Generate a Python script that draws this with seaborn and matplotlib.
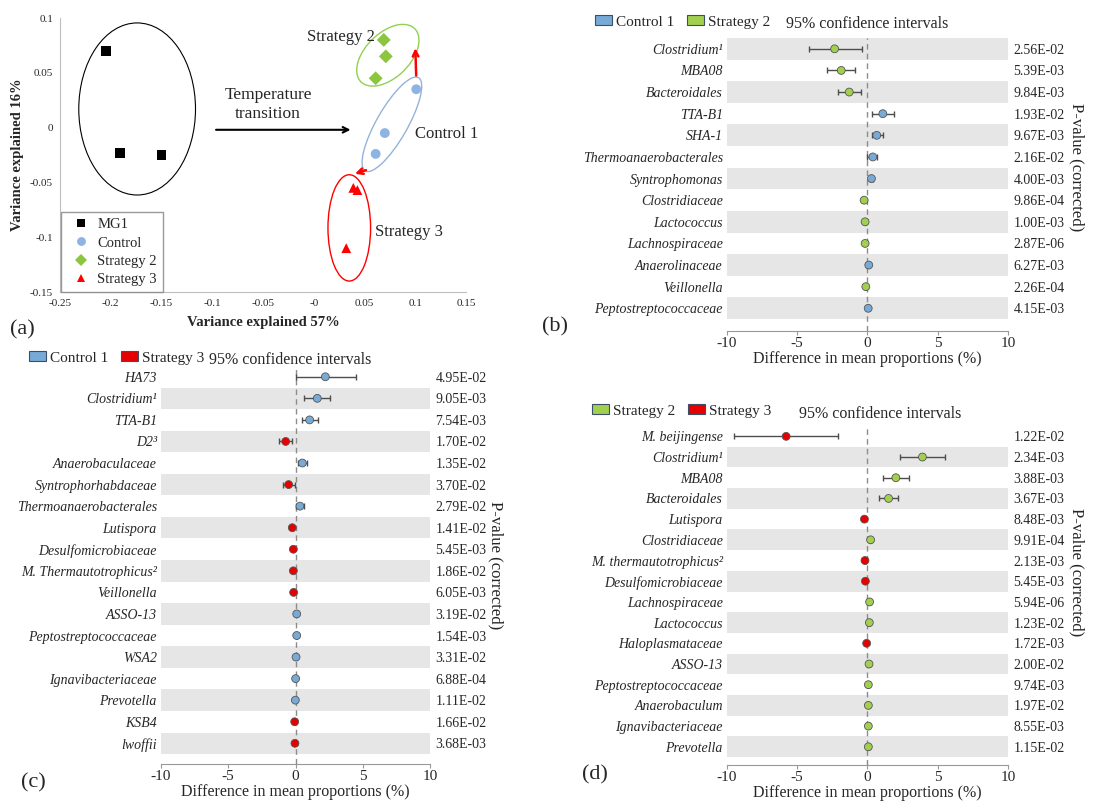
import matplotlib
matplotlib.use('Agg')
import matplotlib.pyplot as plt
from matplotlib.patches import Ellipse, Patch
from matplotlib.ticker import FuncFormatter
import seaborn as sns
import pandas as pd
import numpy as np

W, H = 1102, 806

# ---- panel (a): PCoA scores ----
mg1_x = [-0.205, -0.191, -0.150]
mg1_y = [0.070, -0.023, -0.025]
ctrl_x = [0.101, 0.070, 0.061]
ctrl_y = [0.035, -0.005, -0.024]
s2_x = [0.069, 0.071, 0.061]
s2_y = [0.080, 0.065, 0.045]
s3_x = [0.039, 0.043, 0.032]
s3_y = [-0.055, -0.057, -0.110]

# ---- panel (b): Control 1 vs Strategy 2 ----
b_taxa = ['Clostridium¹', 'MBA08', 'Bacteroidales', 'TTA-B1', 'SHA-1', 'Thermoanaerobacterales',
          'Syntrophomonas', 'Clostridiaceae', 'Lactococcus', 'Lachnospiraceae', 'Anaerolinaceae',
          'Veillonella', 'Peptostreptococcaceae']
b_diff = [-2.34, -1.87, -1.30, 1.09, 0.66, 0.38, 0.28, -0.24, -0.17, -0.17, 0.09, -0.12, 0.05]
b_lo = [-4.19, -2.89, -2.11, 0.31, 0.31, 0.00, 0.20, -0.30, -0.22, -0.22, 0.04, -0.16, 0.01]
b_hi = [-0.40, -0.92, -0.47, 1.89, 1.07, 0.71, 0.36, -0.18, -0.12, -0.12, 0.14, -0.08, 0.09]
b_group = ['Strategy 2', 'Strategy 2', 'Strategy 2', 'Control 1', 'Control 1', 'Control 1',
           'Control 1', 'Strategy 2', 'Strategy 2', 'Strategy 2', 'Control 1', 'Strategy 2', 'Control 1']
b_p = ['2.56E-02', '5.39E-03', '9.84E-03', '1.93E-02', '9.67E-03', '2.16E-02', '4.00E-03',
       '9.86E-04', '1.00E-03', '2.87E-06', '6.27E-03', '2.26E-04', '4.15E-03']

# ---- panel (c): Control 1 vs Strategy 3 ----
c_taxa = ['HA73', 'Clostridium¹', 'TTA-B1', 'D2³', 'Anaerobaculaceae', 'Syntrophorhabdaceae',
          'Thermoanaerobacterales', 'Lutispora', 'Desulfomicrobiaceae', 'M. Thermautotrophicus²',
          'Veillonella', 'ASSO-13', 'Peptostreptococcaceae', 'WSA2', 'Ignavibacteriaceae',
          'Prevotella', 'KSB4', 'lwoffii']
c_diff = [2.22, 1.62, 1.05, -0.73, 0.51, -0.51, 0.33, -0.24, -0.16, -0.16, -0.14, 0.09, 0.09,
          0.04, 0.01, -0.01, -0.06, -0.04]
c_lo = [0.00, 0.63, 0.46, -1.20, 0.16, -0.95, 0.01, -0.28, -0.20, -0.20, -0.18, 0.05, 0.05,
        0.00, -0.03, -0.05, -0.10, -0.08]
c_hi = [4.47, 2.57, 1.65, -0.24, 0.88, -0.04, 0.66, -0.20, -0.12, -0.12, -0.10, 0.13, 0.13,
        0.08, 0.05, 0.03, -0.02, 0.00]
c_group = ['Control 1', 'Control 1', 'Control 1', 'Strategy 3', 'Control 1', 'Strategy 3',
           'Control 1', 'Strategy 3', 'Strategy 3', 'Strategy 3', 'Strategy 3', 'Control 1',
           'Control 1', 'Control 1', 'Control 1', 'Control 1', 'Strategy 3', 'Strategy 3']
c_p = ['4.95E-02', '9.05E-03', '7.54E-03', '1.70E-02', '1.35E-02', '3.70E-02', '2.79E-02',
       '1.41E-02', '5.45E-03', '1.86E-02', '6.05E-03', '3.19E-02', '1.54E-03', '3.31E-02',
       '6.88E-04', '1.11E-02', '1.66E-02', '3.68E-03']

# ---- panel (d): Strategy 2 vs Strategy 3 ----
d_taxa = ['M. beijingense', 'Clostridium¹', 'MBA08', 'Bacteroidales', 'Lutispora', 'Clostridiaceae',
          'M. thermautotrophicus²', 'Desulfomicrobiaceae', 'Lachnospiraceae', 'Lactococcus',
          'Haloplasmataceae', 'ASSO-13', 'Peptostreptococcaceae', 'Anaerobaculum',
          'Ignavibacteriaceae', 'Prevotella']
d_diff = [-5.79, 3.91, 2.02, 1.50, -0.22, 0.22, -0.18, -0.15, 0.15, 0.13, -0.06, 0.11, 0.06,
          0.06, 0.06, 0.06]
d_lo = [-9.48, 2.31, 1.08, 0.84, -0.26, 0.18, -0.22, -0.19, 0.11, 0.09, -0.10, 0.07, 0.02,
        0.02, 0.02, 0.02]
d_hi = [-2.07, 5.50, 2.97, 2.19, -0.18, 0.26, -0.14, -0.11, 0.19, 0.17, -0.02, 0.15, 0.10,
        0.10, 0.10, 0.10]
d_group = ['Strategy 3', 'Strategy 2', 'Strategy 2', 'Strategy 2', 'Strategy 3', 'Strategy 2',
           'Strategy 3', 'Strategy 3', 'Strategy 2', 'Strategy 2', 'Strategy 3', 'Strategy 2',
           'Strategy 2', 'Strategy 2', 'Strategy 2', 'Strategy 2']
d_p = ['1.22E-02', '2.34E-03', '3.88E-03', '3.67E-03', '8.48E-03', '9.91E-04', '2.13E-03',
       '5.45E-03', '5.94E-06', '1.23E-02', '1.72E-03', '2.00E-02', '9.74E-03', '1.97E-02',
       '8.55E-03', '1.15E-02']

BLUE = '#78aad7'
GREEN = '#a2d04e'
RED = '#e60000'
pal = {'Control 1': BLUE, 'Strategy 2': GREEN, 'Strategy 3': RED}

sns.set_style('white')
plt.rcParams['font.family'] = ['Liberation Serif', 'DejaVu Serif']

fig = plt.figure(figsize=(W / 100, H / 100), dpi=100)


def px_axes(l, t, r, b):
    return fig.add_axes([l / W, 1 - b / H, (r - l) / W, (b - t) / H])


# ================= (a) =================
ax = px_axes(60, 18, 466, 292)
pcoa = pd.DataFrame({
    'x': mg1_x + ctrl_x + s2_x + s3_x,
    'y': mg1_y + ctrl_y + s2_y + s3_y,
    'group': ['MG1'] * 3 + ['Control'] * 3 + ['Strategy 2'] * 3 + ['Strategy 3'] * 3,
})
sns.scatterplot(data=pcoa, x='x', y='y', hue='group', style='group',
                palette={'MG1': 'black', 'Control': '#8db4e2', 'Strategy 2': '#8cc63f',
                         'Strategy 3': '#ff0000'},
                markers={'MG1': 's', 'Control': 'o', 'Strategy 2': 'D', 'Strategy 3': '^'},
                s=50, linewidth=0, ax=ax, zorder=3)
ax.add_patch(Ellipse((-0.174, 0.017), 0.115, 0.157, fill=False, ec='black', lw=0.8))
ax.add_patch(Ellipse((0.073, 0.066), 0.072, 0.042, angle=40, fill=False, ec='#92d050', lw=1))
ax.add_patch(Ellipse((0.077, 0.003), 0.100, 0.030, angle=58, fill=False, ec='#95b3d7', lw=1))
ax.add_patch(Ellipse((0.035, -0.0915), 0.042, 0.097, fill=False, ec='#ff0000', lw=1))
ax.annotate('', xy=(0.039, -0.002), xytext=(-0.099, -0.002),
            arrowprops=dict(arrowstyle='->', color='black', lw=1.5))
ax.annotate('', xy=(0.100, 0.075), xytext=(0.101, 0.045),
            arrowprops=dict(arrowstyle='->', color='red', lw=1.8))
ax.annotate('', xy=(0.038, -0.043), xytext=(0.054, -0.038),
            arrowprops=dict(arrowstyle='->', color='red', lw=1.8))
ax.text(-0.045, 0.021, 'Temperature\ntransition', ha='center', va='center', fontsize=12.5,
        linespacing=1.3)
ax.text(0.060, 0.083, 'Strategy 2', ha='right', va='center', fontsize=12)
ax.text(0.100, -0.006, 'Control 1', ha='left', va='center', fontsize=12)
ax.text(0.060, -0.095, 'Strategy 3', ha='left', va='center', fontsize=12)
ax.set_xlim(-0.25, 0.15)
ax.set_ylim(-0.15, 0.1)
ax.set_xticks(np.arange(-0.25, 0.151, 0.05))
ax.set_yticks(np.arange(-0.15, 0.101, 0.05))
ax.xaxis.set_major_formatter(FuncFormatter(lambda v, p: '%g' % round(v, 2)))
ax.yaxis.set_major_formatter(FuncFormatter(lambda v, p: '%g' % round(v, 2)))
ax.tick_params(labelsize=8, length=3, color='#bfbfbf', pad=2)
for s in ['top', 'right']:
    ax.spines[s].set_visible(False)
for s in ['left', 'bottom']:
    ax.spines[s].set_color('#bfbfbf')
ax.set_xlabel('Variance explained 57%', fontsize=10.5, fontweight='bold', labelpad=6)
ax.set_ylabel('Variance explained 16%', fontsize=10.5, fontweight='bold', labelpad=4)
h, l = ax.get_legend_handles_labels()
ax.legend(h, l, loc='lower left', bbox_to_anchor=(0.002, 0.0), borderaxespad=0, fontsize=10.5,
          frameon=True, fancybox=False, edgecolor='#808080', handletextpad=0.1,
          labelspacing=0.35, borderpad=0.4, markerscale=0.9)
ax.get_legend().get_frame().set_linewidth(1)
fig.text(22 / W, 1 - 330 / H, '(a)', fontsize=16, ha='center', va='center')


# ================= (b), (c), (d) =================
def diff_panel(rect, n_extra, taxa, diff, lo, hi, group, pvals, odd_bands, pair,
               leg_xy, ci_xy, ylab_xy, tag, tag_xy):
    ax = px_axes(*rect)
    n = len(taxa)
    df = pd.DataFrame({'taxon': taxa, 'diff': diff, 'lo': lo, 'hi': hi, 'group': group,
                       'row': np.arange(n)})
    for i in range(n):
        if (i % 2 == 1) == odd_bands:
            ax.axhspan(i - 0.5, i + 0.5, color='#e6e6e6', lw=0, zorder=0)
    ax.axvline(0, color='#8c8c8c', ls='--', lw=1, zorder=1, dashes=(4, 3))
    ax.errorbar(df['diff'], df['row'], xerr=[df['diff'] - df['lo'], df['hi'] - df['diff']],
                fmt='none', ecolor='#4d4d4d', elinewidth=1, capsize=2.5, capthick=1, zorder=2)
    sns.scatterplot(data=df, x='diff', y='row', hue='group', palette=pal, s=32,
                    edgecolor='#555555', linewidth=0.6, legend=False, ax=ax, zorder=3)
    ax.set_xlim(-10, 10)
    ax.set_ylim(n - 0.5 + n_extra, -0.5)
    ax.set_yticks(range(n))
    ax.set_yticklabels(taxa, style='italic', fontsize=10)
    ax.set_xticks([-10, -5, 0, 5, 10])
    ax.set_xticklabels(['-10', '-5', '0', '5', '10'], fontsize=11)
    ax.tick_params(axis='y', length=0, pad=3)
    ax.tick_params(axis='x', length=3, direction='out', color='#999999', pad=1, bottom=True)
    for s in ['top', 'right', 'left']:
        ax.spines[s].set_visible(False)
    ax.spines['bottom'].set_color('#999999')
    ax.set_xlabel('Difference in mean proportions (%)', fontsize=11.5, labelpad=1)
    ax.set_ylabel('')
    ax2 = ax.twinx()
    ax2.set_ylim(ax.get_ylim())
    ax2.set_yticks(range(n))
    ax2.set_yticklabels(pvals, fontsize=10)
    ax2.tick_params(axis='y', length=0, pad=4)
    for s in ax2.spines.values():
        s.set_visible(False)
    ax2.set_ylabel('P-value (corrected)', rotation=270, fontsize=12, va='center')
    ax2.yaxis.set_label_coords(ylab_xy[0], ylab_xy[1])
    handles = [Patch(facecolor=pal[g], edgecolor='#3d4f66', lw=0.8, label=g) for g in pair]
    fig.legend(handles=handles, loc='center left', bbox_to_anchor=(leg_xy[0] / W, 1 - leg_xy[1] / H),
               ncol=2, frameon=False, fontsize=11, handlelength=1.1, handleheight=0.55,
               handletextpad=0.3, columnspacing=0.8, borderpad=0, borderaxespad=0)
    fig.text(ci_xy[0] / W, 1 - ci_xy[1] / H, '95% confidence intervals', fontsize=11.5,
             ha='center', va='center')
    fig.text(tag_xy[0] / W, 1 - tag_xy[1] / H, tag, fontsize=16, ha='center', va='center')
    return ax


diff_panel((727, 38, 1008, 331), 0.55, b_taxa, b_diff, b_lo, b_hi, b_group, b_p, False,
           ['Control 1', 'Strategy 2'], (595, 22), (867, 24), (1.245, 0.56), '(b)', (555, 327))
diff_panel((161, 366, 430, 764), 0.46, c_taxa, c_diff, c_lo, c_hi, c_group, c_p, True,
           ['Control 1', 'Strategy 3'], (29, 358), (290, 360), (1.245, 0.50), '(c)', (33, 783))
diff_panel((727, 426, 1008, 765), 0.38, d_taxa, d_diff, d_lo, d_hi, d_group, d_p, True,
           ['Strategy 2', 'Strategy 3'], (592, 411), (880, 414), (1.245, 0.57), '(d)', (595, 775))

fig.savefig('out.png', dpi=100)
